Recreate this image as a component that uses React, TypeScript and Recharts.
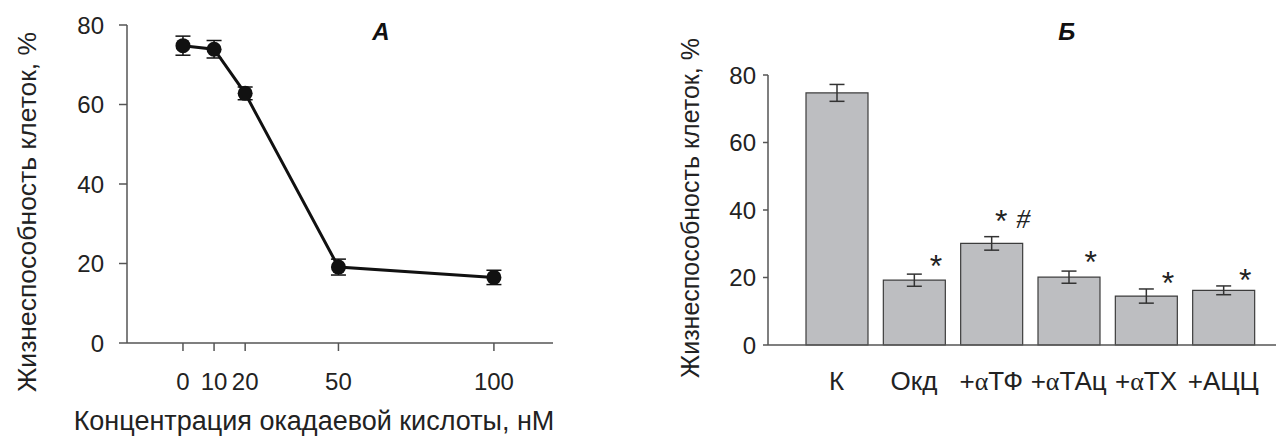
import React from "react";
import {
  LineChart,
  Line,
  BarChart,
  Bar,
  XAxis,
  YAxis,
  ErrorBar,
  Label,
} from "recharts";

// panel A: viability vs okadaic acid concentration
const concentrations = [0, 10, 20, 50, 100];
const viabilityA = [74.8, 73.9, 62.8, 19.1, 16.5];
const errorA = [2.4, 2.2, 1.6, 2.0, 1.8];
const concTicks = [0, 10, 20, 50, 100];

// panel B: viability by treatment
const groups = ["К", "Окд", "+αТФ", "+αТАц", "+αТХ", "+АЦЦ"];
const viabilityB = [74.7, 19.2, 30.1, 20.1, 14.5, 16.2];
const errorB = [2.5, 1.8, 2.0, 1.8, 2.1, 1.3];
const marks = ["", "*", "* #", "*", "*", "*"];
const markY = [null, 25.7, 38.8, 26.7, 20.4, 21.4];

const yTicks = [0, 20, 40, 60, 80];
const yTitle = "Жизнеспособность клеток, %";
const xTitleA = "Концентрация окадаевой кислоты, нМ";

const FONT = "'Liberation Sans', Arial, sans-serif";
const SERIF = "'Liberation Serif', serif";
const AXIS = "#555";
const TXT = "#222";

const dataA = concentrations.map((c, i) => ({
  conc: c,
  viab: viabilityA[i],
  err: errorA[i],
}));

const dataB = groups.map((g, i) => ({
  name: g,
  viab: viabilityB[i],
  err: errorB[i],
  mark: marks[i],
  markY: markY[i],
}));

const tickStyle = { fontSize: 24, fill: TXT, fontFamily: FONT };

function GroupTick(props: any) {
  const { x, y, payload } = props;
  const label: string = payload.value;
  const parts = label.split("α");
  return (
    <text x={x} y={y} dy="0.71em" textAnchor="middle" fontSize={26} fill={TXT} fontFamily={FONT}>
      {parts.length > 1 ? (
        <>
          <tspan>{parts[0]}</tspan>
          <tspan fontFamily={SERIF}>α</tspan>
          <tspan>{parts[1]}</tspan>
        </>
      ) : (
        label
      )}
    </text>
  );
}

function renderMark(props: any) {
  const { cx, cy, index, payload } = props;
  if (cy == null || !payload.mark) return <g key={index} />;
  const hasHash = payload.mark.includes("#");
  const starSize = 32;
  return (
    <g key={index}>
      <text
        x={cx + (hasHash ? 10 : 22)}
        y={cy + 0.57 * starSize}
        textAnchor="middle"
        fontSize={starSize}
        fontFamily={FONT}
        fill={TXT}
      >
        *
      </text>
      {hasHash && (
        <text
          x={cx + 32}
          y={cy + 4 + 0.34 * 28}
          textAnchor="middle"
          fontSize={28}
          fontFamily={SERIF}
          fontStyle="italic"
          fill={TXT}
        >
          #
        </text>
      )}
    </g>
  );
}

function PanelTitle({ x, text }: { x: number; text: string }) {
  return (
    <div
      style={{
        position: "absolute",
        left: x - 20,
        top: 18,
        width: 40,
        textAlign: "center",
        fontFamily: FONT,
        fontSize: 24,
        fontWeight: "bold",
        fontStyle: "italic",
        color: "#111",
        lineHeight: "28px",
      }}
    >
      {text}
    </div>
  );
}

export default function App() {
  return (
    <div style={{ position: "absolute", left: 0, top: 0, width: 1276, height: 441, background: "#fff" }}>
      <div style={{ position: "absolute", left: 0, top: 0 }}>
        <LineChart width={600} height={441} data={dataA} margin={{ top: 25, right: 47, bottom: 0, left: 0 }}>
          <XAxis
            dataKey="conc"
            type="number"
            domain={[-18, 119]}
            ticks={concTicks}
            allowDataOverflow
            height={98}
            tickSize={8}
            tickMargin={22}
            tick={tickStyle}
            stroke={AXIS}
            strokeWidth={1.5}
          >
            <Label
              content={() => (
                <text x={314} y={421} textAnchor="middle" dominantBaseline="central" fontSize={27} fill={TXT} fontFamily={FONT}>
                  {xTitleA}
                </text>
              )}
            />
          </XAxis>
          <YAxis
            domain={[0, 80]}
            ticks={yTicks}
            width={127}
            tickSize={8}
            tickMargin={15}
            tick={tickStyle}
            stroke={AXIS}
            strokeWidth={1.5}
          >
            <Label
              content={() => (
                <text
                  x={27}
                  y={212}
                  transform="rotate(-90 27 212)"
                  textAnchor="middle"
                  dominantBaseline="central"
                  fontSize={26.5}
                  fill={TXT}
                  fontFamily={FONT}
                >
                  {yTitle}
                </text>
              )}
            />
          </YAxis>
          <Line
            dataKey="viab"
            stroke="#111"
            strokeWidth={3}
            dot={{ r: 7.5, fill: "#111", stroke: "#111", strokeWidth: 0 }}
            activeDot={false}
            isAnimationActive={false}
          >
            <ErrorBar dataKey="err" direction="y" width={7.5} stroke="#111" strokeWidth={1.5} />
          </Line>
        </LineChart>
      </div>
      <PanelTitle x={381} text="А" />

      <div style={{ position: "absolute", left: 660, top: 0 }}>
        <BarChart width={616} height={441} data={dataB} margin={{ top: 75, right: 0, bottom: 0, left: 0 }}>
          <XAxis
            dataKey="name"
            height={96}
            padding={{ left: 30, right: 14 }}
            tickLine={false}
            tickSize={0}
            tickMargin={27}
            tick={<GroupTick />}
            interval={0}
            stroke={AXIS}
            strokeWidth={1.5}
          />
          <YAxis
            domain={[0, 80]}
            ticks={yTicks}
            width={108}
            tickSize={5}
            tickMargin={7}
            tick={tickStyle}
            stroke={AXIS}
            strokeWidth={1.5}
          >
            <Label
              content={() => (
                <text
                  x={29.5}
                  y={208}
                  transform="rotate(-90 29.5 208)"
                  textAnchor="middle"
                  dominantBaseline="central"
                  fontSize={25}
                  fill={TXT}
                  fontFamily={FONT}
                >
                  {yTitle}
                </text>
              )}
            />
          </YAxis>
          <Bar dataKey="viab" fill="#bdbec1" stroke="#3c3c3c" strokeWidth={1.2} barSize={62} isAnimationActive={false}>
            <ErrorBar dataKey="err" direction="y" width={7.5} stroke="#333" strokeWidth={1.5} />
          </Bar>
          <Line
            dataKey="markY"
            stroke="none"
            dot={renderMark}
            activeDot={false}
            legendType="none"
            isAnimationActive={false}
          />
        </BarChart>
      </div>
      <PanelTitle x={1066.7} text="Б" />
    </div>
  );
}
